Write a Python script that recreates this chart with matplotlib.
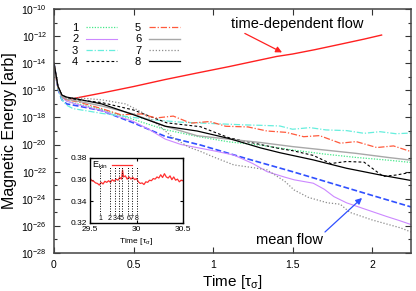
import numpy as np
import matplotlib
matplotlib.use("Agg")
import matplotlib.pyplot as plt
from matplotlib.ticker import FixedLocator, NullFormatter, FixedFormatter

plt.rcParams['font.family'] = ['Liberation Sans', 'DejaVu Sans']
plt.rcParams['mathtext.fontset'] = 'custom'
plt.rcParams['mathtext.rm'] = 'Liberation Sans'
plt.rcParams['mathtext.it'] = 'Liberation Sans:italic'

# ---- data (log10 of magnetic energy) ----
t_td = [0, 0.012, 0.025, 0.05, 0.08, 0.3, 0.5, 0.7, 0.9, 1.1, 1.3, 1.4, 1.5, 1.64, 1.8, 1.95, 2.06]
e_td = [-14.0, -15.0, -15.8, -16.45, -16.7, -16.2, -15.72, -15.2, -14.72, -14.25, -13.75, -13.5, -13.32, -13.0, -12.6, -12.22, -11.92]

t_mean = [0, 0.025, 0.05, 0.08, 0.15, 0.3, 0.5, 0.7, 0.92, 1.2, 1.5, 1.8, 2.0, 2.245]
e_mean = [-14.0, -15.9, -16.7, -17.0, -17.15, -17.5, -18.4, -19.4, -20.03, -21.0, -22.0, -23.05, -23.75, -24.6]

t1 = [0, 0.025, 0.05, 0.08, 0.15, 0.3, 0.5, 0.7, 0.9, 1.1, 1.3, 1.5, 1.7, 1.9, 2.1, 2.245]
e1 = [-14.0, -15.8, -16.5, -16.8, -17.0, -17.4, -18.15, -18.9, -19.4, -19.8, -20.05, -20.4, -20.7, -20.95, -21.15, -21.32]

t2 = [0, 0.025, 0.05, 0.08, 0.15, 0.3, 0.5, 0.6, 0.7, 0.8, 0.92, 1.0, 1.13, 1.25, 1.34, 1.45, 1.51, 1.63, 1.7, 1.76, 1.84, 1.94, 2.09, 2.17, 2.245]
e2 = [-14.0, -15.8, -16.5, -16.8, -17.05, -17.5, -18.3, -18.9, -19.6, -20.0, -20.27, -20.45, -20.77, -21.4, -22.0, -22.4, -22.6, -22.85, -23.3, -23.84, -24.3, -24.7, -25.3, -25.6, -25.9]

t3 = [0, 0.025, 0.05, 0.08, 0.12, 0.2, 0.3, 0.4, 0.5, 0.6, 0.7, 0.8, 0.9, 1.0, 1.1, 1.2, 1.3, 1.42, 1.5, 1.61, 1.71, 1.84, 1.95, 2.05, 2.15, 2.245]
e3 = [-14.0, -15.9, -16.7, -17.1, -17.35, -17.5, -17.7, -17.85, -18.0, -18.15, -18.25, -18.35, -18.4, -18.45, -18.5, -18.55, -18.58, -18.63, -18.87, -18.75, -18.92, -18.97, -19.17, -19.05, -19.2, -19.15]

t4 = [0, 0.025, 0.05, 0.08, 0.15, 0.3, 0.5, 0.71, 0.92, 1.1, 1.3, 1.42, 1.5, 1.63, 1.74, 1.84, 1.95, 2.07, 2.15, 2.245]
e4 = [-14.0, -15.7, -16.35, -16.55, -16.7, -16.9, -17.45, -18.4, -18.68, -19.5, -20.0, -20.3, -20.45, -20.8, -21.4, -21.25, -21.3, -22.35, -22.25, -22.05]

t5 = [0, 0.025, 0.05, 0.08, 0.15, 0.3, 0.42, 0.55, 0.64, 0.75, 0.86, 0.98, 1.08, 1.22, 1.34, 1.46, 1.57, 1.67, 1.8, 1.9, 2.03, 2.135, 2.245]
e5 = [-14.0, -15.8, -16.45, -16.7, -16.85, -17.35, -17.8, -17.74, -18.04, -17.9, -18.42, -18.3, -18.65, -18.7, -19.0, -19.1, -19.42, -19.34, -19.9, -19.78, -20.22, -20.1, -20.52]

t6 = [0, 0.025, 0.05, 0.08, 0.15, 0.3, 0.5, 0.7, 0.9, 1.1, 1.3, 1.5, 1.7, 1.9, 2.1, 2.245]
e6 = [-14.0, -15.8, -16.45, -16.65, -16.8, -17.15, -17.75, -18.65, -19.35, -19.6, -19.85, -20.15, -20.4, -20.65, -20.95, -21.15]

t7 = [0, 0.025, 0.05, 0.08, 0.15, 0.3, 0.45, 0.55, 0.65, 0.75, 0.85, 0.92, 1.0, 1.13, 1.25, 1.34, 1.45, 1.51, 1.6, 1.72, 1.8, 1.86, 2.0, 2.18, 2.245]
e7 = [-14.0, -15.7, -16.4, -16.55, -16.55, -16.7, -17.0, -17.6, -18.5, -19.5, -20.2, -20.5, -20.9, -21.5, -21.7, -21.87, -22.7, -23.35, -23.9, -24.3, -24.4, -25.0, -25.56, -26.15, -26.45]

t8 = [0, 0.025, 0.05, 0.08, 0.15, 0.3, 0.5, 0.7, 0.9, 1.1, 1.3, 1.42, 1.63, 1.84, 2.05, 2.245]
e8 = [-14.0, -15.7, -16.35, -16.5, -16.65, -17.0, -17.8, -18.65, -19.0, -19.55, -20.25, -20.6, -21.13, -21.75, -22.24, -22.65]

# inset: kinetic energy
t_kin = [29.5, 29.52, 29.54, 29.56, 29.58, 29.6, 29.62, 29.64, 29.66, 29.68, 29.7, 29.72, 29.74, 29.76,
         29.78, 29.8, 29.82, 29.84, 29.85, 29.86, 29.88, 29.9, 29.92, 29.94, 29.96, 29.98, 30.0, 30.02,
         30.04, 30.06, 30.08, 30.1, 30.12, 30.14, 30.16, 30.18, 30.2, 30.22, 30.24, 30.26, 30.28, 30.3,
         30.32, 30.34, 30.36, 30.38, 30.4, 30.42, 30.44, 30.46, 30.48, 30.5]
e_kin = [0.3615, 0.359, 0.3585, 0.357, 0.3565, 0.355, 0.3575, 0.356, 0.3585, 0.3575, 0.359, 0.3575, 0.360, 0.3585,
         0.3605, 0.3595, 0.362, 0.3605, 0.369, 0.3625, 0.3635, 0.3605, 0.3625, 0.3605, 0.362, 0.360, 0.361, 0.358,
         0.3565, 0.357, 0.3555, 0.358, 0.3575, 0.3595, 0.359, 0.361, 0.3605, 0.3625, 0.3615, 0.3645, 0.362, 0.3655,
         0.3625, 0.3615, 0.3635, 0.360, 0.3625, 0.3595, 0.3605, 0.358, 0.3595, 0.359]

snap_t = [29.61, 29.71, 29.77, 29.81, 29.845, 29.91, 29.95, 30.0]
snap_lab = ['1', '2', '3', '4', '5', '6', '7', '8']

series = [
    (t1, e1, '1', '#44e888', (0, (1, 1.2)), 0.9),
    (t2, e2, '2', '#cc88ff', '-', 0.8),
    (t3, e3, '3', '#66eedd', (0, (5, 1.5, 1, 1.5)), 0.9),
    (t4, e4, '4', 'black', (0, (2.5, 2)), 0.8),
    (t5, e5, '5', '#ff5a3c', (0, (5, 1.5, 1, 1.5)), 0.9),
    (t6, e6, '6', '#a8a8a8', '-', 1.0),
    (t7, e7, '7', '#8c8c8c', (0, (1, 1.5)), 0.9),
    (t8, e8, '8', 'black', '-', 0.9),
]

fig = plt.figure(figsize=(4.16, 2.91), dpi=100)
ax = fig.add_axes([0.1298, 0.1306, 0.8582, 0.8384])

ax.plot(t_td, 10.0 ** np.array(e_td), color='#ff2020', lw=1.0)
ax.plot(t_mean, 10.0 ** np.array(e_mean), color='#3050ff', lw=1.2, ls=(0, (3.5, 1.5)))
handles = []
for tt, ee, lab, col, ls, lw in series:
    h, = ax.plot(tt, 10.0 ** np.array(ee), color=col, ls=ls, lw=lw, label=lab)
    handles.append(h)

ax.set_yscale('log')
ax.set_xlim(0, 2.245)
ax.set_ylim(1e-28, 1e-10)
majors = [10.0 ** k for k in range(-28, -9, 2)]
ax.yaxis.set_major_locator(FixedLocator(majors))
ax.yaxis.set_major_formatter(FixedFormatter([r'10$^{%d}$' % k for k in range(-28, -9, 2)]))
ax.yaxis.set_minor_locator(FixedLocator([10.0 ** k for k in range(-27, -10, 2)]))
ax.yaxis.set_minor_formatter(NullFormatter())
ax.set_xticks([0, 0.5, 1, 1.5, 2])
ax.set_xticklabels(['0', '0.5', '1', '1.5', '2'])
ax.tick_params(which='both', direction='in', top=True, right=True, labelsize=7.5, color='#333333')
ax.tick_params(which='major', length=4, width=0.8)
ax.tick_params(which='minor', length=2.5, width=0.8)
ax.tick_params(axis='y', pad=5)
ax.tick_params(axis='x', pad=5)
for sp in ax.spines.values():
    sp.set_color('#444444')
    sp.set_linewidth(1.1)

ax.set_ylabel('Magnetic Energy [arb]', fontsize=11.5, labelpad=3)
ax.set_xlabel(r'Time [$\mathregular{\tau_\sigma}$]', fontsize=11, labelpad=2)

leg = ax.legend(handles=handles, ncol=2, loc='upper left', bbox_to_anchor=(0.035, 0.965),
                frameon=False, markerfirst=False, fontsize=8, handlelength=2.8,
                handletextpad=0.7, columnspacing=1.6, labelspacing=0.12, borderpad=0)

ax.text(1.528, 10 ** -11.1, 'time-dependent flow', ha='center', va='center', fontsize=10.5)
ax.annotate('', xy=(1.434, 10 ** -13.2), xytext=(1.2, 10 ** -11.8),
            arrowprops=dict(arrowstyle='-|>', color='#ff2020', lw=0.9, mutation_scale=9,
                            shrinkA=0, shrinkB=0))
ax.text(1.478, 10 ** -27.05, 'mean flow', ha='center', va='center', fontsize=10.5)
ax.annotate('', xy=(1.937, 10 ** -23.94), xytext=(1.704, 10 ** -26.45),
            arrowprops=dict(arrowstyle='-|>', color='#3050ff', lw=0.9, mutation_scale=9,
                            shrinkA=0, shrinkB=0))

# ---- inset ----
axi = fig.add_axes([0.2163, 0.2337, 0.2237, 0.2234])
axi.plot(t_kin, e_kin, color='#ff3030', lw=0.9, label=r'E$_{\mathregular{kin}}$')
for st, sl in zip(snap_t, snap_lab):
    axi.plot([st, st], [0.3285, 0.3715], color='black', lw=0.7, ls=(0, (1, 1.6)))
    axi.text(st, 0.3245, sl, ha='center', va='center', fontsize=5)
axi.set_xlim(29.5, 30.5)
axi.set_ylim(0.32, 0.38)
axi.set_xticks([29.5, 30, 30.5])
axi.set_xticklabels(['29.5', '30', '30.5'])
axi.set_yticks([0.32, 0.34, 0.36, 0.38])
axi.set_yticklabels(['0.32', '0.34', '0.36', '0.38'])
axi.tick_params(direction='in', top=True, right=True, labelsize=6, length=2.5, pad=2)
for sp in axi.spines.values():
    sp.set_linewidth(1.0)
axi.set_xlabel(r'Time [$\mathregular{\tau_\sigma}$]', fontsize=6, labelpad=2)
axi.legend(loc='upper left', frameon=False, markerfirst=False, fontsize=6.5,
           handlelength=2.2, handletextpad=0.5, borderpad=0.1, borderaxespad=0.1)

fig.savefig('out.png', dpi=100)
